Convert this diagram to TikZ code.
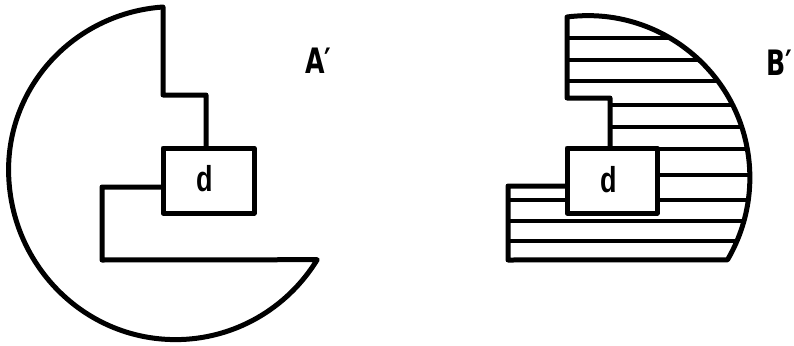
\documentclass[tikz,border=0pt]{standalone}
\usepackage{fontspec}
\usepackage{graphicx}
\setmainfont{Liberation Sans}
\newfontfamily\lblfont{DejaVu Sans}
\begin{document}
\begin{tikzpicture}[x=1pt,y=-1pt,
  outline/.style={line width=5pt, line join=round, line cap=round},
  hatch/.style={line width=3.2pt},
  lbl/.style={inner sep=0pt, font=\lblfont\bfseries\fontsize{35}{35}\selectfont},
  dlbl/.style={inner sep=0pt, font=\bfseries\fontsize{36}{36}\selectfont}]
\useasboundingbox (0,0) rectangle (794,345);
% ---- left figure A'
\draw[outline] (206,148) -- (206,95) -- (163,95) -- (163,7)
  arc[start angle=-94, end angle=-180, x radius=166, y radius=163]
  arc[start angle=-180, end angle=-328, x radius=167, y radius=170]
  -- (102,260) -- (102,187) -- (163,187);
\draw[outline] (163,148) rectangle (254,213);
\node[dlbl] (d1) at (205,179) {\scalebox{0.75}[1]{d}};
\node[lbl, anchor=base west] (A) at (305,73) {\scalebox{0.72}[1]{A′}};
% ---- right figure B'
\begin{scope}
\clip (610,98) -- (567,98) -- (567,17)
  arc[start angle=-97.4, end angle=30.5, radius=162]
  -- (508,260) -- (508,186) -- (567,186) -- (567,148) -- (610,148) -- cycle;
\foreach \y in {38,60,81,105,127,149,175,200,221,241}
  \draw[hatch] (500,\y) -- (760,\y);
\end{scope}
\fill[white] (567,148) rectangle (657,213);
\draw[outline] (610,148) -- (610,98) -- (567,98) -- (567,17)
  arc[start angle=-97.4, end angle=30.5, radius=162]
  -- (508,260) -- (508,186) -- (567,186);
\draw[outline] (567,148) rectangle (657,213);
\node[dlbl] (d2) at (609,180) {\scalebox{0.75}[1]{d}};
\node[lbl, anchor=base west] (B) at (766,75) {\scalebox{0.72}[1]{B′}};
\end{tikzpicture}
\end{document}
